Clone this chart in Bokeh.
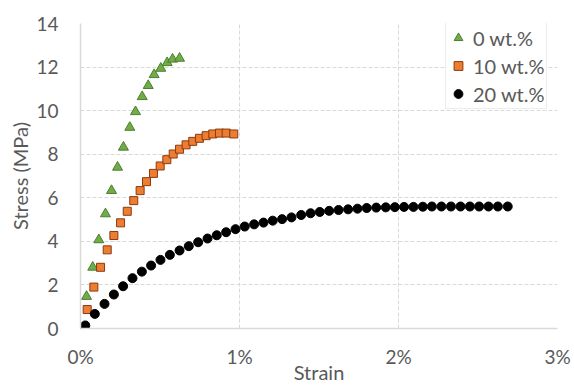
from bokeh.plotting import figure
from bokeh.models import FixedTicker, PrintfTickFormatter, Range1d, Legend, LegendItem
from bokeh.embed import file_html
from bokeh.resources import INLINE

# strain in %, stress in MPa
strain_0 = [0, 0.038, 0.077, 0.115, 0.157, 0.195, 0.233, 0.27, 0.31, 0.346, 0.388,
            0.426, 0.463, 0.505, 0.545, 0.579, 0.623]
stress_0 = [0, 1.47, 2.81, 4.07, 5.26, 6.33, 7.4, 8.32, 9.23, 9.95, 10.64,
            11.15, 11.65, 11.94, 12.2, 12.36, 12.4]

strain_10 = [0, 0.042, 0.084, 0.126, 0.168, 0.21, 0.252, 0.294, 0.335, 0.375, 0.415,
             0.459, 0.501, 0.543, 0.583, 0.623, 0.664, 0.706, 0.748, 0.79, 0.832,
             0.874, 0.916, 0.964]
stress_10 = [0, 0.87, 1.90, 2.81, 3.61, 4.27, 4.85, 5.38, 5.87, 6.33, 6.74,
             7.12, 7.46, 7.75, 8.01, 8.23, 8.43, 8.59, 8.73, 8.85, 8.93,
             8.97, 8.97, 8.93]

strain_20 = [0, 0.03, 0.09, 0.151, 0.21, 0.268, 0.327, 0.386, 0.444, 0.503, 0.562,
             0.623, 0.681, 0.74, 0.799, 0.857, 0.916, 0.975, 1.033, 1.092, 1.151,
             1.209, 1.268, 1.327, 1.388, 1.447, 1.505, 1.564, 1.623, 1.683, 1.742,
             1.8, 1.86, 1.92, 1.977, 2.035, 2.094, 2.153, 2.21, 2.27, 2.33, 2.39,
             2.449, 2.507, 2.566, 2.625, 2.687]
stress_20 = [0, 0.14, 0.67, 1.13, 1.56, 1.94, 2.31, 2.61, 2.89, 3.15, 3.38,
             3.58, 3.78, 3.96, 4.13, 4.28, 4.42, 4.56, 4.68, 4.78, 4.86,
             4.95, 5.02, 5.1, 5.21, 5.29, 5.35, 5.4, 5.44, 5.47, 5.5,
             5.53, 5.55, 5.56, 5.57, 5.58, 5.58, 5.59, 5.6, 5.6, 5.6, 5.6,
             5.6, 5.6, 5.6, 5.6, 5.6]

series_labels = ["0 wt.%", "10 wt.%", "20 wt.%"]
x_ticks = [0, 1, 2, 3]
y_ticks = [0, 2, 4, 6, 8, 10, 12, 14]
x_title = "Strain"
y_title = "Stress (MPa)"

FONT = "Lato"
TXT = "#595959"
GRID = "#d9d9d9"

p = figure(width=574, height=387, output_backend="svg", toolbar_location=None,
           x_range=Range1d(0, 3), y_range=Range1d(0, 14),
           min_border_left=80, min_border_right=17, min_border_top=23, min_border_bottom=59)
p.outline_line_color = None

r0 = p.scatter(strain_0, stress_0, marker="triangle", size=10,
               fill_color="#70ad47", line_color="#4e7d31", line_width=1)
r1 = p.scatter(strain_10, stress_10, marker="square", size=8,
               fill_color="#ed7d31", line_color="#8a3a10", line_width=1)
r2 = p.scatter(strain_20, stress_20, marker="circle", size=9,
               fill_color="black", line_color="black", line_width=1)

for ax in (p.xaxis[0], p.yaxis[0]):
    ax.axis_line_color = GRID
    ax.axis_line_width = 1.5
    ax.major_tick_line_color = None
    ax.minor_tick_line_color = None
    ax.major_tick_out = 0
    ax.major_tick_in = 0
    ax.major_label_text_font = FONT
    ax.major_label_text_font_size = "19px"
    ax.major_label_text_color = TXT
    ax.axis_label_text_font = FONT
    ax.axis_label_text_font_size = "20px"
    ax.axis_label_text_font_style = "normal"
    ax.axis_label_text_color = TXT

p.xaxis.ticker = FixedTicker(ticks=x_ticks)
p.xaxis.formatter = PrintfTickFormatter(format="%d%%")
p.xaxis.axis_label = x_title
p.xaxis.major_label_standoff = 16
p.xaxis.axis_label_standoff = -11

p.yaxis.ticker = FixedTicker(ticks=y_ticks)
p.yaxis.axis_label = y_title
p.yaxis.major_label_standoff = 22
p.yaxis.axis_label_standoff = 1

for g in (p.xgrid[0], p.ygrid[0]):
    g.grid_line_color = GRID
    g.grid_line_dash = "4 2"
    g.grid_line_width = 1

legend = Legend(items=[LegendItem(label=series_labels[0], renderers=[r0]),
                       LegendItem(label=series_labels[1], renderers=[r1]),
                       LegendItem(label=series_labels[2], renderers=[r2])],
                location=(365, 219))
legend.padding = 1
legend.spacing = 1
legend.glyph_width = 22
legend.glyph_height = 27
legend.label_height = 27
legend.label_standoff = 4
legend.label_text_font = FONT
legend.label_text_font_size = "20px"
legend.label_text_color = TXT
legend.border_line_color = GRID
legend.border_line_width = 1.5
legend.background_fill_color = "white"
legend.background_fill_alpha = 1
p.add_layout(legend)

open("out.html", "w").write(file_html(p, INLINE))
